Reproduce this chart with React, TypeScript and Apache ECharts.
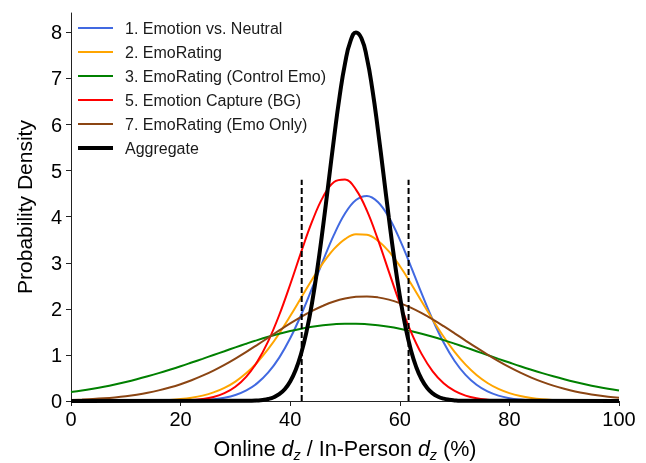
import React, { useEffect, useRef } from 'react';
import * as echarts from 'echarts';

const xs = [
  0, 2, 4, 6, 8, 10, 12, 14, 16, 18,
  20, 22, 24, 26, 28, 30, 32, 34, 36, 38,
  40, 42, 44, 46, 48, 50, 52, 54, 56, 58,
  60, 62, 64, 66, 68, 70, 72, 74, 76, 78,
  80, 82, 84, 86, 88, 90, 92, 94, 96, 98, 100,
];

const emotionVsNeutral = [
  0, 0, 0, 0, 0, 0, 0, 0.0002, 0.0006, 0.0015,
  0.0036, 0.0082, 0.0177, 0.0363, 0.0707, 0.131, 0.231, 0.388, 0.62, 0.942,
  1.361, 1.871, 2.448, 3.047, 3.609, 4.068, 4.361, 4.449, 4.318, 3.987,
  3.503, 2.929, 2.329, 1.763, 1.269, 0.869, 0.567, 0.351, 0.207, 0.116,
  0.062, 0.032, 0.015, 0.007, 0.003, 0.001, 0.0005, 0.0002, 0, 0, 0,
];

const emoRating = [
  0, 0.0001, 0.0002, 0.0004, 0.0009, 0.0019, 0.0037, 0.0071, 0.0134, 0.0241,
  0.0423, 0.0716, 0.117, 0.186, 0.285, 0.422, 0.606, 0.841, 1.129, 1.466,
  1.843, 2.24, 2.635, 2.998, 3.3, 3.514, 3.62, 3.608, 3.479, 3.246,
  2.929, 2.557, 2.16, 1.765, 1.395, 1.067, 0.79, 0.565, 0.391, 0.262,
  0.17, 0.107, 0.065, 0.038, 0.022, 0.012, 0.006, 0.003, 0.0015, 0.0007, 0.0003,
];

const emoRatingControl = [
  0.193, 0.227, 0.267, 0.311, 0.36, 0.414, 0.473, 0.537, 0.605, 0.678,
  0.754, 0.834, 0.915, 0.998, 1.081, 1.164, 1.244, 1.321, 1.393, 1.459,
  1.519, 1.57, 1.613, 1.645, 1.667, 1.679, 1.679, 1.667, 1.645, 1.613,
  1.57, 1.519, 1.459, 1.393, 1.321, 1.244, 1.164, 1.081, 0.998, 0.915,
  0.834, 0.754, 0.678, 0.605, 0.537, 0.473, 0.414, 0.36, 0.311, 0.267, 0.227,
];

const emotionCapture = [
  0, 0, 0, 0, 0, 0, 0.0002, 0.0005, 0.0014, 0.0036,
  0.0088, 0.0201, 0.0434, 0.0885, 0.17, 0.309, 0.529, 0.854, 1.299, 1.866,
  2.529, 3.232, 3.896, 4.43, 4.752, 4.807, 4.588, 4.13, 3.507, 2.809,
  2.123, 1.513, 1.017, 0.645, 0.386, 0.218, 0.116, 0.058, 0.028, 0.012,
  0.005, 0.002, 0.001, 0, 0, 0, 0, 0, 0, 0, 0,
];

const emoRatingEmoOnly = [
  0.0217, 0.0305, 0.0423, 0.0579, 0.0783, 0.1045, 0.138, 0.179, 0.23, 0.292,
  0.365, 0.451, 0.549, 0.661, 0.785, 0.921, 1.066, 1.219, 1.375, 1.531,
  1.683, 1.826, 1.955, 2.067, 2.158, 2.223, 2.261, 2.27, 2.249, 2.2,
  2.124, 2.025, 1.905, 1.77, 1.623, 1.469, 1.312, 1.157, 1.007, 0.866,
  0.734, 0.615, 0.508, 0.415, 0.334, 0.266, 0.208, 0.162, 0.124, 0.093, 0.07,
];

const aggX = [
  0, 33, 34, 35, 36, 37, 38, 39, 40, 41, 42, 43, 44, 45, 46, 47, 48, 49, 50, 51,
  52, 53, 54, 55, 56, 57, 58, 59, 60, 61, 62, 63, 64, 65, 66, 67, 68, 69, 70, 71, 100,
];
const aggregate = [
  0, 0.0053, 0.011, 0.0226, 0.044, 0.082, 0.148, 0.255, 0.423, 0.674, 1.032, 1.517,
  2.142, 2.907, 3.79, 4.746, 5.708, 6.596, 7.322, 7.808, 7.998, 7.871, 7.441, 6.757,
  5.894, 4.94, 3.977, 3.075, 2.285, 1.631, 1.118, 0.736, 0.466, 0.283, 0.165, 0.093,
  0.05, 0.026, 0.0128, 0.0061, 0,
];

const ciBounds = [42.1, 61.6];
const ciHeight = 4.8;

const seriesNames = [
  '1. Emotion vs. Neutral',
  '2. EmoRating',
  '3. EmoRating (Control Emo)',
  '5. Emotion Capture (BG)',
  '7. EmoRating (Emo Only)',
  'Aggregate',
];
const seriesColors = ['#4169E1', '#FFA500', '#008000', '#FF0000', '#8B4513', '#000000'];
const seriesValues = [emotionVsNeutral, emoRating, emoRatingControl, emotionCapture, emoRatingEmoOnly];

const xTicks = [0, 20, 40, 60, 80, 100];
const yTicks = [0, 1, 2, 3, 4, 5, 6, 7, 8];

const FONT = '"Liberation Sans", Arial, Helvetica, sans-serif';

export default function App() {
  const ref = useRef<HTMLDivElement>(null);
  useEffect(() => {
    const chart = echarts.init(ref.current!, null, { renderer: 'svg' });
    const series: any[] = seriesValues.map((vals, i) => ({
      name: seriesNames[i],
      type: 'line',
      data: xs.map((x, j) => [x, vals[j]]),
      symbol: 'none',
      smooth: 0.4,
      lineStyle: { color: seriesColors[i], width: 2 },
      itemStyle: { color: seriesColors[i] },
      z: 2 + i,
    }));
    series.push({
      name: seriesNames[5],
      type: 'line',
      data: aggX.map((x, j) => [x, aggregate[j]]),
      symbol: 'none',
      smooth: 0.5,
      lineStyle: { color: '#000', width: 4 },
      itemStyle: { color: '#000' },
      z: 10,
    });
    ciBounds.forEach((b, k) => {
      series.push({
        name: 'CI' + k,
        type: 'line',
        data: [[b, 0], [b, ciHeight]],
        symbol: 'none',
        lineStyle: { color: '#000', width: 2, type: [6, 3] },
        z: 11,
      });
    });

    const legendData = seriesNames.map((n, i) => ({
      name: n,
      icon: i === 5 ? 'path://M0,0H35V4H0Z' : 'path://M0,0H35V2H0Z',
    }));

    chart.setOption({
      animation: false,
      textStyle: { fontFamily: FONT },
      grid: { left: 71, right: 27, top: 13, bottom: 62, containLabel: false, outerBoundsMode: 'none' },
      legend: {
        orient: 'vertical',
        left: 78,
        top: 20,
        padding: 0,
        itemWidth: 35,
        itemHeight: 14,
        itemGap: 8,
        itemStyle: { borderWidth: 0 },
        data: legendData,
        textStyle: { fontSize: 16, lineHeight: 14, color: '#1a1a1a', fontFamily: FONT, padding: [0, 0, 0, 7] },
      },
      xAxis: {
        type: 'value',
        min: 0,
        max: 100,
        interval: 20,
        name: '{n|Online }{i|d}{s|z}{n| / In-Person }{i|d}{s|z}{n| (%)}',
        nameLocation: 'middle',
        nameGap: 35,
        nameTextStyle: {
          fontFamily: FONT,
          rich: {
            n: { fontSize: 21.5, color: '#000', fontFamily: FONT, lineHeight: 26, verticalAlign: 'middle' },
            i: { fontSize: 21.5, color: '#000', fontFamily: FONT, fontStyle: 'italic', lineHeight: 26, verticalAlign: 'middle' },
            s: { fontSize: 14.5, color: '#000', fontFamily: FONT, fontStyle: 'italic', lineHeight: 14, verticalAlign: 'bottom' },
          },
        },
        axisLine: { show: true, onZero: false, lineStyle: { color: '#222', width: 1 } },
        axisTick: { show: true, length: 5, lineStyle: { color: '#222' }, customValues: xTicks },
        axisLabel: { fontSize: 20, color: '#000', margin: 8, fontFamily: FONT, customValues: xTicks },
        splitLine: { show: false },
      },
      yAxis: {
        type: 'value',
        min: 0,
        max: 8.42,
        name: 'Probability Density',
        nameLocation: 'middle',
        nameGap: 36,
        nameTextStyle: { fontSize: 21, color: '#000', fontFamily: FONT },
        axisLine: { show: true, onZero: false, lineStyle: { color: '#222', width: 1 } },
        axisTick: { show: true, length: 5, lineStyle: { color: '#222' }, customValues: yTicks },
        axisLabel: { fontSize: 20, color: '#000', margin: 9, fontFamily: FONT, customValues: yTicks },
        splitLine: { show: false },
      },
      series,
    });
    return () => chart.dispose();
  }, []);
  return <div ref={ref} style={{ position: 'fixed', left: 0, top: 0, width: 646, height: 463 }} />;
}
